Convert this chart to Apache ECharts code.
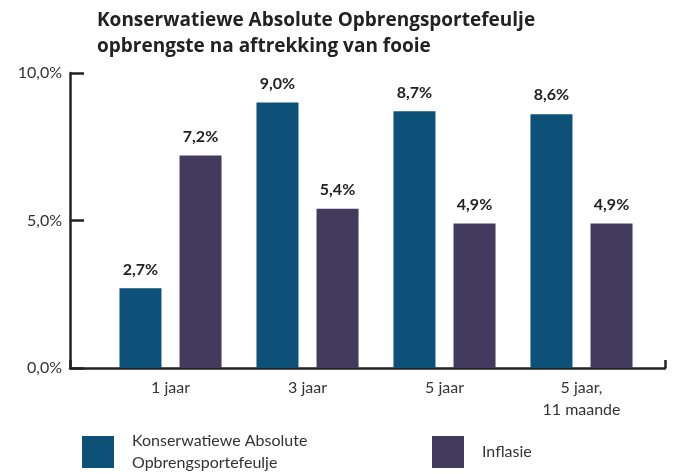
<!DOCTYPE html>
<html>
<head>
<meta charset="utf-8">
<script src="https://cdn.jsdelivr.net/npm/echarts@6/dist/echarts.min.js"></script>
<style>
  html, body { margin: 0; padding: 0; background: #fff; }
  #chart { width: 681px; height: 474px; }
</style>
</head>
<body>
<div id="chart"></div>
<script>
// data
const categories = ['1 jaar', '3 jaar', '5 jaar', '5 jaar,\n11 maande'];
const portfolioName = 'Konserwatiewe Absolute\nOpbrengsportefeulje';
const inflationName = 'Inflasie';
const portfolioValues = [2.7, 9.0, 8.7, 8.6];
const inflationValues = [7.2, 5.4, 4.9, 4.9];
const yTicks = [0, 5, 10];

const blue = '#0d5178';
const purple = '#433b5d';
const ink = '#222';
const font = 'Lato';

function pct(v) {
  return v.toFixed(1).replace('.', ',') + '%';
}

let chart = echarts.init(document.getElementById('chart'));

let barLabel = {
  show: true,
  position: 'top',
  distance: 11,
  color: ink,
  fontFamily: font,
  fontWeight: 'bold',
  fontSize: 16,
  formatter: p => pct(p.value)
};

let options = {
  animation: false,
  title: {
    text: 'Konserwatiewe Absolute Opbrengsportefeulje\nopbrengste na aftrekking van fooie',
    left: 92,
    top: 3,
    textStyle: {
      fontFamily: 'Open Sans',
      fontWeight: 'bold',
      fontSize: 19,
      lineHeight: 26,
      color: ink
    }
  },
  legend: [
    {
      data: [portfolioName],
      left: 82,
      top: 430,
      padding: 0,
      itemWidth: 32,
      itemHeight: 32,
      icon: 'rect',
      textStyle: { fontFamily: font, fontSize: 16, color: '#333', lineHeight: 22, padding: [0, 0, 0, 13] }
    },
    {
      data: [inflationName],
      left: 432,
      top: 436,
      padding: 0,
      itemWidth: 32,
      itemHeight: 32,
      icon: 'rect',
      textStyle: { fontFamily: font, fontSize: 16, color: '#333', padding: [0, 0, 0, 13] }
    }
  ],
  grid: [
    // frame grid: carries the axis lines and y labels
    { left: 70, right: 16, top: 73, bottom: 106 },
    // bar grid
    { left: 102, right: 31, top: 73, bottom: 106 }
  ],
  xAxis: [
    {
      gridIndex: 0,
      type: 'value',
      min: 0,
      max: 1,
      interval: 1,
      axisLine: { show: true, lineStyle: { color: ink, width: 2.5 } },
      axisTick: { show: true, inside: true, length: 8, lineStyle: { color: ink, width: 2.5 } },
      axisLabel: { show: false },
      splitLine: { show: false }
    },
    {
      gridIndex: 1,
      type: 'category',
      data: categories,
      axisLine: { show: false },
      axisTick: { show: false },
      axisLabel: {
        margin: 9,
        color: '#333',
        fontFamily: font,
        fontSize: 16,
        lineHeight: 22
      }
    }
  ],
  yAxis: [
    {
      gridIndex: 0,
      type: 'value',
      min: yTicks[0],
      max: yTicks[yTicks.length - 1],
      interval: yTicks[1] - yTicks[0],
      axisLine: { show: true, lineStyle: { color: ink, width: 2.5 } },
      axisTick: { show: true, inside: true, length: 14, lineStyle: { color: ink, width: 2.5 } },
      axisLabel: {
        margin: 8,
        color: '#333',
        fontFamily: font,
        fontSize: 16,
        formatter: v => pct(v)
      },
      splitLine: { show: false }
    },
    {
      gridIndex: 1,
      type: 'value',
      min: yTicks[0],
      max: yTicks[yTicks.length - 1],
      show: false,
      splitLine: { show: false }
    }
  ],
  series: [
    {
      name: portfolioName,
      type: 'bar',
      xAxisIndex: 1,
      yAxisIndex: 1,
      data: portfolioValues,
      barWidth: 42,
      barGap: '43%',
      itemStyle: { color: blue },
      label: barLabel
    },
    {
      name: inflationName,
      type: 'bar',
      xAxisIndex: 1,
      yAxisIndex: 1,
      data: inflationValues,
      barWidth: 42,
      barGap: '43%',
      itemStyle: { color: purple },
      label: barLabel
    }
  ]
};

chart.setOption(options);
</script>
</body>
</html>
